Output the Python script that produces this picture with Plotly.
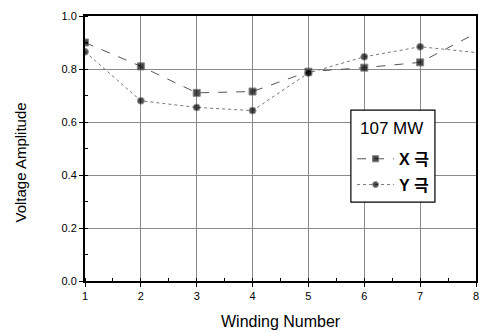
import plotly.graph_objects as go

# Winding numbers and measured voltage amplitudes for the two poles at 107 MW
winding = [1, 2, 3, 4, 5, 6, 7, 8]
x_pole = [0.90, 0.81, 0.71, 0.715, 0.79, 0.805, 0.825, 0.935]
y_pole = [0.865, 0.68, 0.655, 0.643, 0.785, 0.846, 0.884, 0.862]
x_ticks = [1, 2, 3, 4, 5, 6, 7, 8]
y_ticks = [0.0, 0.2, 0.4, 0.6, 0.8, 1.0]
y_tick_text = ["0.0", "0.2", "0.4", "0.6", "0.8", "1.0"]
legend_title = "107 MW"

# the last winding sits on the frame edge and is drawn without a symbol
marker_sizes = [7] * (len(winding) - 1) + [0]

fig = go.Figure()
fig.add_trace(go.Scatter(
    x=winding, y=x_pole, name="X 극", mode="lines+markers", legendgroup="x",
    line=dict(color="#555555", width=1, dash="dash"),
    marker=dict(symbol="square", size=marker_sizes, color="black"),
))
fig.add_trace(go.Scatter(
    x=winding, y=y_pole, name="Y 극", mode="lines+markers", legendgroup="y",
    line=dict(color="#777777", width=1, dash="dot"),
    marker=dict(symbol="circle", size=marker_sizes, color="black"),
))

font_main = "Liberation Sans, Arial, Noto Sans CJK KR, sans-serif"

fig.update_layout(
    width=483, height=333,
    margin=dict(l=85, r=4, t=16, b=52),
    paper_bgcolor="white", plot_bgcolor="white",
    font=dict(family=font_main, color="black", size=11),
    showlegend=True,
    legend=dict(
        x=0.683, y=0.525, xanchor="left", yanchor="top",
        bgcolor="rgba(0,0,0,0)", borderwidth=0,
        font=dict(size=16, family="Liberation Sans, Noto Sans CJK KR, sans-serif",
                  weight="bold"),
        traceorder="grouped", tracegroupgap=2,
        itemwidth=37,
    ),
    # framed box holding the legend and its heading
    shapes=[
        dict(type="rect", xref="paper", yref="paper",
             x0=0.680, x1=0.895, y0=0.298, y1=0.645,
             line=dict(color="black", width=1.2), fillcolor="white", layer="above"),
    ],
    xaxis=dict(
        range=[1, 8], tickvals=x_ticks, ticks="outside", ticklen=4,
        tickcolor="black", showline=True, linecolor="black", linewidth=2,
        mirror=True, showgrid=True, gridcolor="#8a8a8a", gridwidth=1,
        zeroline=False, tickfont=dict(size=11),
        minor=dict(dtick=0.5, ticks="inside", ticklen=3, tickcolor="black", showgrid=False),
    ),
    yaxis=dict(
        range=[0, 1.0], tickvals=y_ticks, ticktext=y_tick_text, ticks="outside",
        ticklen=4, tickcolor="black", showline=True, linecolor="black",
        linewidth=2, mirror=True, showgrid=True, gridcolor="#8a8a8a",
        gridwidth=1, zeroline=False, tickfont=dict(size=11),
        minor=dict(dtick=0.1, ticks="inside", ticklen=3, tickcolor="black", showgrid=False),
    ),
    annotations=[
        dict(text=legend_title, xref="paper", yref="paper", x=0.784, y=0.577,
             xanchor="center", yanchor="middle", showarrow=False,
             font=dict(size=17)),
        dict(text="Winding Number", xref="paper", yref="paper", x=0.5, y=-0.151,
             xanchor="center", yanchor="middle", showarrow=False,
             font=dict(size=16)),
        dict(text="Voltage Amplitude", xref="paper", yref="paper", x=-0.165, y=0.449,
             xanchor="center", yanchor="middle", textangle=-90, showarrow=False,
             font=dict(size=15)),
    ],
)

fig.write_html("out.html")
